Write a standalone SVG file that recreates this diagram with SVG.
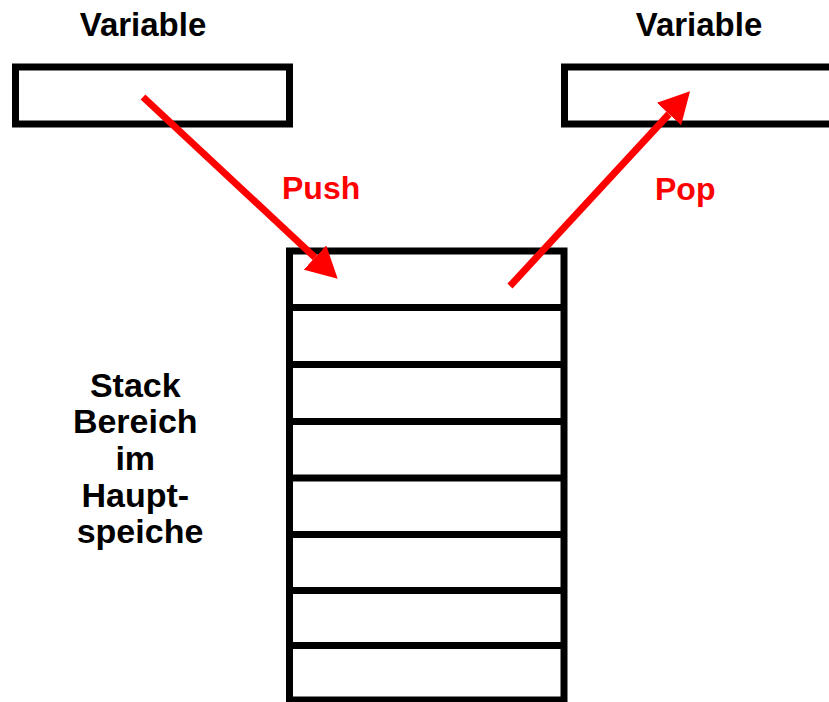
<svg xmlns="http://www.w3.org/2000/svg" width="829" height="702" viewBox="0 0 829 702">
  <style>
    .box { fill: #ffffff; stroke: #000000; stroke-width: 7; }
    .cell { fill: none; stroke: #000000; stroke-width: 7; }
    .lbl { font-family: "Liberation Sans", Arial, sans-serif; font-weight: bold; fill: #000000; text-anchor: middle; }
    .op { font-family: "Liberation Sans", Arial, sans-serif; font-weight: bold; fill: #ff0000; font-size: 32px; }
    .flow { stroke: #ff0000; stroke-width: 7; fill: none; }
  </style>
  <defs>
    <marker id="head" viewBox="0 0 31 33" markerWidth="31" markerHeight="33" refX="0" refY="16.5" orient="auto" markerUnits="userSpaceOnUse">
      <path d="M0,0 L31,16.5 L0,33 Z" fill="#ff0000"/>
    </marker>
  </defs>
  <rect width="829" height="702" fill="#ffffff"/>

  <g id="var-left">
    <text class="lbl" x="143" y="36" font-size="33">Variable</text>
    <rect class="box" x="15.5" y="67" width="274" height="57"/>
  </g>

  <g id="var-right">
    <text class="lbl" x="699" y="36" font-size="33">Variable</text>
    <rect class="box" x="564.5" y="67" width="300" height="57"/>
  </g>

  <g id="stack">
    <rect class="box" x="289.5" y="251" width="274.5" height="449"/>
    <g class="cell">
      <line x1="289.5" y1="307.5" x2="564" y2="307.5"/>
      <line x1="289.5" y1="364.5" x2="564" y2="364.5"/>
      <line x1="289.5" y1="421.5" x2="564" y2="421.5"/>
      <line x1="289.5" y1="478" x2="564" y2="478"/>
      <line x1="289.5" y1="534.5" x2="564" y2="534.5"/>
      <line x1="289.5" y1="590.5" x2="564" y2="590.5"/>
      <line x1="289.5" y1="645.5" x2="564" y2="645.5"/>
    </g>
  </g>

  <g id="stack-label">
    <text class="lbl" font-size="34">
      <tspan x="140" y="397">Stack</tspan>
      <tspan x="140" y="433">Bereich</tspan>
      <tspan x="140" y="470">im</tspan>
      <tspan x="140" y="507">Haupt-</tspan>
      <tspan x="140" y="543">speiche</tspan>
    </text>
  </g>

  <g id="connectors">
    <line class="flow" x1="143" y1="97" x2="315" y2="257.5" marker-end="url(#head)"/>
    <text class="op" x="282" y="199">Push</text>
    <line class="flow" x1="510" y1="286" x2="669" y2="114" marker-end="url(#head)"/>
    <text class="op" x="655" y="200">Pop</text>
  </g>
</svg>
